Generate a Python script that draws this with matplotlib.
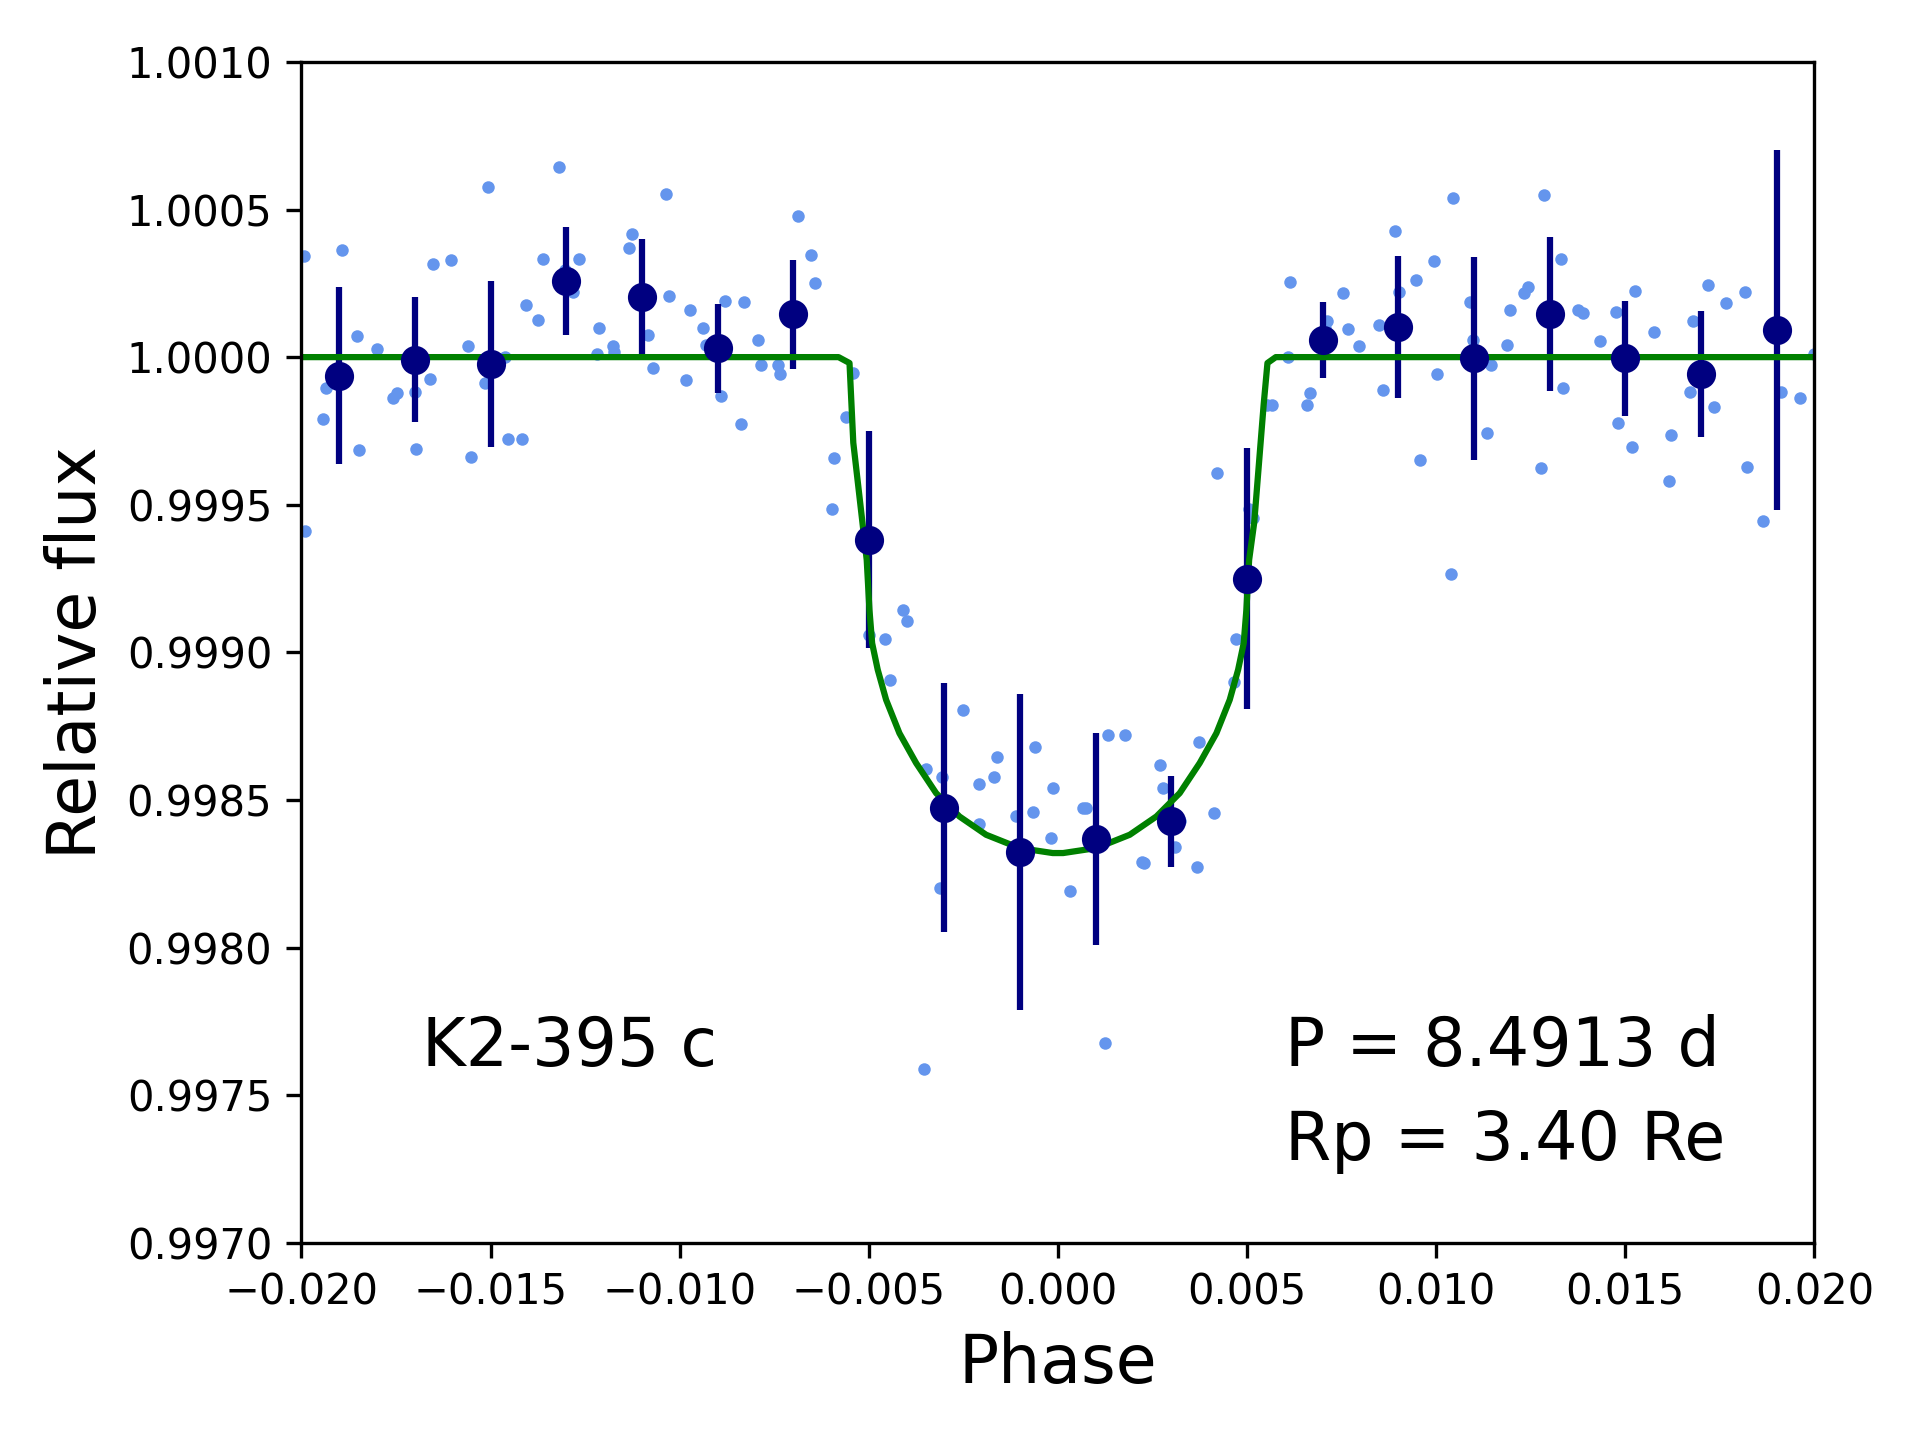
import matplotlib
matplotlib.use('Agg')
import matplotlib.pyplot as plt
from matplotlib.ticker import FuncFormatter

# unbinned photometry
phase = [-0.01994, -0.01990, -0.01942, -0.01935, -0.01893, -0.01854, -0.01848, -0.01799,
         -0.01757, -0.01747, -0.01699, -0.01696, -0.01660, -0.01653, -0.01605, -0.01560,
         -0.01553, -0.01514, -0.01508, -0.01462, -0.01453, -0.01417, -0.01407, -0.01375,
         -0.01362, -0.01320, -0.01304, -0.01281, -0.01265, -0.01219, -0.01213, -0.01177,
         -0.01174, -0.01135, -0.01126, -0.01083, -0.01070, -0.01035, -0.01028, -0.00983,
         -0.00973, -0.00938, -0.00931, -0.00892, -0.00879, -0.00837, -0.00831, -0.00792,
         -0.00785, -0.00740, -0.00734, -0.00688, -0.00653, -0.00643, -0.00597, -0.00591,
         -0.00559, -0.00542, -0.00500, -0.00458, -0.00445, -0.00410, -0.00400, -0.00348,
         -0.00355, -0.00312, -0.00306, -0.00303, -0.00251, -0.00209, -0.00209, -0.00170,
         -0.00160, -0.00112, -0.00108, -0.00066, -0.00060, -0.00014, -0.00018, 0.00031,
         0.00067, 0.00073, 0.00132, 0.00125, 0.00177, 0.00222, 0.00228, 0.00271,
         0.00277, 0.00309, 0.00322, 0.00368, 0.00374, 0.00413, 0.00420, 0.00465,
         0.00471, 0.00504, 0.00517, 0.00552, 0.00565, 0.00607, 0.00614, 0.00659,
         0.00666, 0.00705, 0.00711, 0.00753, 0.00766, 0.00795, 0.00850, 0.00860,
         0.00892, 0.00902, 0.00948, 0.00957, 0.00993, 0.01003, 0.01038, 0.01045,
         0.01090, 0.01097, 0.01135, 0.01145, 0.01187, 0.01194, 0.01233, 0.01242,
         0.01278, 0.01284, 0.01330, 0.01336, 0.01375, 0.01388, 0.01433, 0.01475,
         0.01482, 0.01517, 0.01527, 0.01576, 0.01621, 0.01615, 0.01670, 0.01680,
         0.01718, 0.01735, 0.01767, 0.01816, 0.01822, 0.01864, 0.01913, 0.01961,
         0.02000]
flux = [1.000341, 0.999412, 0.999790, 0.999897, 1.000362, 1.000072, 0.999686, 1.000026,
        0.999860, 0.999877, 0.999881, 0.999690, 0.999926, 1.000316, 1.000329, 1.000038,
        0.999661, 0.999914, 1.000577, 0.999999, 0.999723, 0.999723, 1.000175, 1.000125,
        1.000333, 1.000644, 1.000295, 1.000221, 1.000333, 1.000009, 1.000100, 1.000038,
        1.000018, 1.000370, 1.000416, 1.000076, 0.999964, 1.000552, 1.000208, 0.999922,
        1.000159, 1.000100, 1.000042, 0.999868, 1.000191, 0.999773, 1.000187, 1.000059,
        0.999972, 0.999972, 0.999943, 1.000478, 1.000345, 1.000250, 0.999487, 0.999657,
        0.999798, 0.999947, 0.999060, 0.999044, 0.998907, 0.999143, 0.999106, 0.998604,
        0.997589, 0.998202, 0.998579, 0.998471, 0.998803, 0.998554, 0.998418, 0.998579,
        0.998646, 0.998447, 0.998331, 0.998459, 0.998679, 0.998542, 0.998372, 0.998190,
        0.998471, 0.998471, 0.998720, 0.997676, 0.998720, 0.998289, 0.998285, 0.998617,
        0.998542, 0.998339, 0.998430, 0.998273, 0.998695, 0.998455, 0.999607, 0.998898,
        0.999044, 0.999487, 0.999454, 0.999839, 0.999839, 0.999999, 1.000254, 0.999839,
        0.999877, 1.000100, 1.000121, 1.000217, 1.000096, 1.000038, 1.000109, 0.999889,
        1.000428, 1.000221, 1.000262, 0.999653, 1.000325, 0.999943, 0.999267, 1.000540,
        1.000187, 1.000059, 0.999744, 0.999972, 1.000042, 1.000159, 1.000217, 1.000237,
        0.999624, 1.000548, 1.000333, 0.999897, 1.000159, 1.000150, 1.000055, 1.000154,
        0.999777, 0.999694, 1.000225, 1.000084, 0.999736, 0.999582, 0.999881, 1.000121,
        1.000246, 0.999831, 1.000183, 1.000221, 0.999628, 0.999446, 0.999881, 0.999860,
        1.000009]

# binned points
bin_phase = [-0.019, -0.017, -0.015, -0.013, -0.011, -0.009, -0.007, -0.005, -0.003, -0.001,
             0.001, 0.003, 0.005, 0.007, 0.009, 0.011, 0.013, 0.015, 0.017, 0.019]
bin_flux = [0.999937, 0.999991, 0.999977, 1.000258, 1.000203, 1.000030, 1.000145, 0.999381,
            0.998474, 0.998323, 0.998367, 0.998427, 0.999250, 1.000058, 1.000101, 0.999996,
            1.000146, 0.999996, 0.999942, 1.000092]
bin_err = [0.000300, 0.000211, 0.000280, 0.000183, 0.000197, 0.000150, 0.000184, 0.000368,
           0.000421, 0.000536, 0.000360, 0.000155, 0.000443, 0.000130, 0.000241, 0.000344,
           0.000260, 0.000195, 0.000214, 0.000609]

# transit model
model_phase = [-0.0200, -0.0058, -0.00551, -0.00541, -0.005055, -0.004983, -0.004912,
               -0.004764, -0.004542, -0.00419, -0.003749, -0.00322, -0.002604, -0.001899,
               -0.001018, -0.000137, 0.000137, 0.001018, 0.001899, 0.002604, 0.00322,
               0.003749, 0.00419, 0.004542, 0.004764, 0.004912, 0.004983, 0.005055,
               0.00519, 0.00544, 0.00554, 0.00576, 0.0200]
model_flux = [1.0, 1.0, 0.99998, 0.99971, 0.999313, 0.999144, 0.999031,
              0.998941, 0.998839, 0.998726, 0.998625, 0.998523, 0.998444, 0.998382,
              0.998337, 0.998320, 0.998320, 0.998337, 0.998382, 0.998444, 0.998523,
              0.998625, 0.998726, 0.998839, 0.998941, 0.999031, 0.999144, 0.999313,
              0.99944, 0.99984, 0.99998, 1.0, 1.0]


def minus_fmt(fmt):
    return FuncFormatter(lambda v, pos: (fmt % v).replace('-', '\u2212'))


fig = plt.figure(figsize=(6.4, 4.8), dpi=300)
ax = fig.add_subplot(111)
fig.subplots_adjust(left=0.157, right=0.945, bottom=0.137, top=0.957)

ax.plot(phase, flux, 'o', color='cornflowerblue', ms=3, mec='none')
ax.errorbar(bin_phase, bin_flux, yerr=bin_err, fmt='o', color='navy', ms=6, elinewidth=1.5)
ax.plot(model_phase, model_flux, color='green', lw=1.5)

ax.text(-0.0168, 0.9976, 'K2-395 c', fontsize=16)
ax.text(0.006, 0.9976, 'P = 8.4913 d', fontsize=16)
ax.text(0.006, 0.99728, 'Rp = 3.40 Re', fontsize=16)

ax.set_xlim(-0.02, 0.02)
ax.set_ylim(0.997, 1.001)
ax.set_xticks([-0.02, -0.015, -0.01, -0.005, 0.0, 0.005, 0.01, 0.015, 0.02])
ax.set_yticks([0.997, 0.9975, 0.998, 0.9985, 0.999, 0.9995, 1.0, 1.0005, 1.001])
ax.xaxis.set_major_formatter(minus_fmt('%.3f'))
ax.yaxis.set_major_formatter(minus_fmt('%.4f'))
ax.set_xlabel('Phase', fontsize=16)
ax.set_ylabel('Relative flux', fontsize=16)

plt.savefig('out.png', dpi=300)
